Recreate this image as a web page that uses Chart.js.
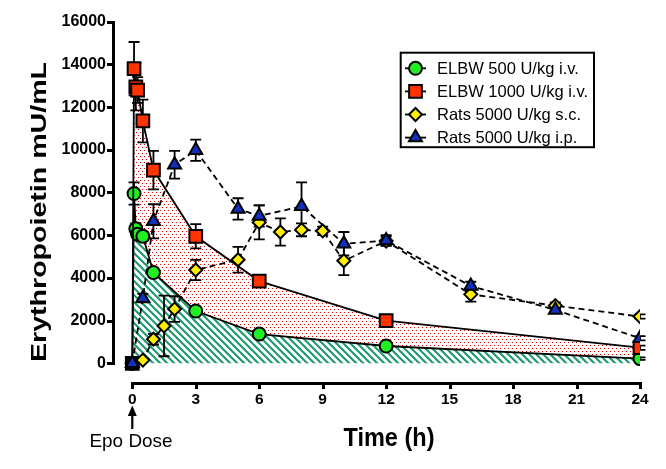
<!DOCTYPE html>
<html>
<head>
<meta charset="utf-8">
<script src="https://cdn.jsdelivr.net/npm/chart.js@4.4.0/dist/chart.umd.min.js"></script>
<style>
  html, body { margin: 0; padding: 0; background: #fff; }
  canvas { display: block; }
</style>
</head>
<body>
<canvas id="epoChart" width="666" height="469"></canvas>
<script>
    "use strict";

    // ELBW infants, 500 U/kg i.v.
    var elbw500Time = [0, 0.083, 0.167, 0.25, 0.5, 1, 3, 6, 12, 24];
    var elbw500Epo  = [0, 7950, 6300, 6050, 5950, 4250, 2450, 1370, 810, 220];
    var elbw500Sem  = [0, 520, 250, 200, 200, 200, 150, 100, 80, 60];

    // ELBW infants, 1000 U/kg i.v.
    var elbw1000Time = [0, 0.083, 0.167, 0.25, 0.5, 1, 3, 6, 12, 24];
    var elbw1000Epo  = [0, 13800, 12950, 12800, 11350, 9050, 5950, 3850, 2000, 730];
    var elbw1000Sem  = [0, 1250, 1100, 600, 1000, 900, 570, 150, 120, 100];

    // Rats, 5000 U/kg s.c.
    var ratsScTime = [0, 0.5, 1, 1.5, 2, 3, 5, 6, 7, 8, 9, 10, 12, 16, 20, 24];
    var ratsScEpo  = [0, 150, 1130, 1750, 2540, 4370, 4850, 6600, 6150, 6250, 6200, 4800, 5730, 3230, 2700, 2190];
    var ratsScSem  = [0, 80, 250, 1420, 600, 470, 600, 800, 640, 300, 200, 670, 200, 340, 150, 100];

    // Rats, 5000 U/kg i.p.
    var ratsIpTime = [0, 0.5, 1, 2, 3, 5, 6, 8, 10, 12, 16, 20, 24];
    var ratsIpEpo  = [0, 3050, 6650, 9300, 9980, 7230, 6900, 7350, 5600, 5750, 3620, 2500, 1170];
    var ratsIpSem  = [0, 200, 800, 650, 500, 500, 500, 1120, 550, 250, 200, 150, 100];

    var seriesLabels = ['ELBW 500 U/kg i.v.', 'ELBW 1000 U/kg i.v.', 'Rats 5000 U/kg s.c.', 'Rats 5000 U/kg i.p.'];
    var xTickValues = [0, 3, 6, 9, 12, 15, 18, 21, 24];
    var yTickValues = [0, 2000, 4000, 6000, 8000, 10000, 12000, 14000, 16000];

    var FONT = '"Liberation Sans", Arial, Helvetica, sans-serif';

    function toPoints(xs, ys) {
        return xs.map(function (x, i) { return {x: x, y: ys[i]}; });
    }

    // green diagonal hatch under the 500 U/kg curve
    function makeHatch() {
        var s = 7;
        var c = document.createElement('canvas');
        c.width = s; c.height = s;
        var g = c.getContext('2d');
        g.strokeStyle = '#1f9a70';
        g.lineWidth = 2.1;
        g.beginPath();
        g.moveTo(-1, -1); g.lineTo(s + 1, s + 1);
        g.moveTo(-1, s - 1); g.lineTo(1, s + 1);
        g.moveTo(s - 1, -1); g.lineTo(s + 1, 1);
        g.stroke();
        return g.createPattern(c, 'repeat');
    }

    // red dots between the two ELBW curves
    function makeDots() {
        var c = document.createElement('canvas');
        c.width = 4; c.height = 6;
        var g = c.getContext('2d');
        g.fillStyle = '#e00000';
        g.fillRect(0, 0, 1, 1);
        g.fillRect(2, 3, 1, 1);
        return g.createPattern(c, 'repeat');
    }

    var markers = [
        {style: 'circle', radius: 6.5, color: '#22ee22'},
        {style: 'rect', radius: 9, color: '#ff3300'},
        {style: 'rectRot', radius: 6.5, color: '#ffee00'},
        {style: 'triangle', radius: 7.5, color: '#1030c0'}
    ];

    // error bars, drawn after fills but below lines and markers
    var errorBars = {
        id: 'errorBars',
        beforeDatasetsDraw: function (chart) {
            var ctx = chart.ctx;
            var x = chart.scales.x, y = chart.scales.y;
            ctx.save();
            ctx.strokeStyle = '#000';
            ctx.lineWidth = 1.8;
            chart.data.datasets.forEach(function (ds) {
                (ds.errors || []).forEach(function (e, i) {
                    if (!e) return;
                    var p = ds.data[i];
                    var px = x.getPixelForValue(p.x);
                    var top = y.getPixelForValue(p.y + e);
                    var bot = y.getPixelForValue(Math.max(0, p.y - e));
                    ctx.beginPath();
                    ctx.moveTo(px, top); ctx.lineTo(px, bot);
                    ctx.moveTo(px - 5.5, top); ctx.lineTo(px + 5.5, top);
                    ctx.moveTo(px - 5.5, bot); ctx.lineTo(px + 5.5, bot);
                    ctx.stroke();
                });
            });
            ctx.restore();
        }
    };

    function fitText(ctx, text, x, y, font, width, rotate) {
        ctx.save();
        ctx.font = font;
        var m = ctx.measureText(text).width;
        ctx.translate(x, y);
        if (rotate) ctx.rotate(-Math.PI / 2);
        ctx.scale(width / m, 1);
        ctx.textAlign = 'center';
        ctx.textBaseline = 'alphabetic';
        ctx.fillStyle = '#000';
        ctx.fillText(text, 0, 0);
        ctx.restore();
    }

    // axis lines and tick marks (only over the tick range)
    var axisFrame = {
        id: 'axisFrame',
        afterDraw: function (chart) {
            var ctx = chart.ctx;
            var xs = chart.scales.x, ys = chart.scales.y;
            var left = Math.round(ys.right), bottom = Math.round(xs.top);
            var w = 3;
            var x0 = Math.round(xs.getPixelForValue(0)), x1 = Math.round(xs.getPixelForValue(24));
            var y0 = Math.round(ys.getPixelForValue(0)), y1 = Math.round(ys.getPixelForValue(16000));
            ctx.save();
            ctx.fillStyle = '#000';
            ctx.fillRect(x0 - 1, bottom - 1, x1 - x0 + 3, w);
            ctx.fillRect(left - 1, y1 - 1, w, y0 - y1 + 3);
            xTickValues.forEach(function (v) {
                var px = Math.round(xs.getPixelForValue(v));
                ctx.fillRect(px - 1, bottom, w, 6);
            });
            yTickValues.forEach(function (v) {
                var py = Math.round(ys.getPixelForValue(v));
                ctx.fillRect(left - 6, py - 1, 6, w);
            });
            ctx.restore();
        }
    };

    // titles, dose arrow and legend box
    var decorations = {
        id: 'decorations',
        afterDraw: function (chart) {
            var ctx = chart.ctx;
            var x = chart.scales.x;
            ctx.save();

            fitText(ctx, 'Erythropoietin mU/mL', 45.5, 212, 'bold 22px ' + FONT, 300, true);
            fitText(ctx, 'Time (h)', 389, 446, 'bold 25px ' + FONT, 91, false);
            fitText(ctx, 'Epo Dose', 131, 447, '19px ' + FONT, 83, false);

            // dose arrow under t = 0
            var ax = x.getPixelForValue(0);
            ctx.strokeStyle = '#000';
            ctx.lineWidth = 2.2;
            ctx.beginPath();
            ctx.moveTo(ax, 413); ctx.lineTo(ax, 429);
            ctx.stroke();
            ctx.fillStyle = '#000';
            ctx.beginPath();
            ctx.moveTo(ax, 405.5); ctx.lineTo(ax - 4.5, 416); ctx.lineTo(ax + 4.5, 416);
            ctx.closePath();
            ctx.fill();

            // legend
            var lx = 400.7, ly = 52.7, lw = 193.3, lh = 94.5;
            ctx.fillStyle = '#fff';
            ctx.fillRect(lx, ly, lw, lh);
            ctx.lineWidth = 2;
            ctx.strokeRect(lx, ly, lw, lh);
            ctx.font = '16.5px ' + FONT;
            ctx.textBaseline = 'middle';
            seriesLabels.forEach(function (label, i) {
                var ry = 68.3 + i * 23.1;
                ctx.strokeStyle = '#000';
                ctx.lineWidth = 1.8;
                ctx.beginPath();
                ctx.moveTo(405, ry); ctx.lineTo(426, ry);
                ctx.stroke();
                ctx.fillStyle = markers[i].color;
                ctx.lineWidth = 2;
                Chart.helpers.drawPoint(ctx, {pointStyle: markers[i].style, radius: markers[i].radius, borderWidth: 2, rotation: 0}, 415.5, ry);
                ctx.fillStyle = '#000';
                ctx.fillText(label, 437, ry + 1);
            });
            ctx.restore();
        }
    };

    var ctx = document.getElementById('epoChart').getContext('2d');

    function lineDataset(i, xs, ys, errs, extra) {
        var ds = {
            label: seriesLabels[i],
            data: toPoints(xs, ys),
            errors: errs,
            showLine: true,
            borderColor: '#000',
            borderWidth: 1.8,
            pointStyle: markers[i].style,
            pointRadius: markers[i].radius,
            pointBackgroundColor: markers[i].color,
            pointBorderColor: '#000',
            pointBorderWidth: 2,
            fill: false
        };
        return Object.assign(ds, extra || {});
    }

    var redBg = elbw1000Time.map(function (t) { return t === 0 ? '#000' : markers[1].color; });

    function plainNumber(v) { return String(v); }

    new Chart(ctx, {
        type: 'scatter',
        data: {
            datasets: [
                lineDataset(0, elbw500Time, elbw500Epo, elbw500Sem, {
                    fill: 'origin', backgroundColor: makeHatch(), order: 3
                }),
                lineDataset(1, elbw1000Time, elbw1000Epo, elbw1000Sem, {
                    fill: '-1', backgroundColor: makeDots(), pointBackgroundColor: redBg, order: 2
                }),
                lineDataset(2, ratsScTime, ratsScEpo, ratsScSem, {
                    borderDash: [6, 4], order: 1
                }),
                lineDataset(3, ratsIpTime, ratsIpEpo, ratsIpSem, {
                    borderDash: [6, 4], order: 0
                })
            ]
        },
        options: {
            responsive: false,
            animation: false,
            events: [],
            layout: {padding: {left: 0, right: 26, top: 21.7, bottom: 0}},
            plugins: {
                legend: {display: false},
                tooltip: {enabled: false},
                filler: {drawTime: 'beforeDatasetsDraw'}
            },
            scales: {
                x: {
                    type: 'linear',
                    min: -0.912,
                    max: 24,
                    afterFit: function (scale) { scale.height = 469 - 383.3; },
                    afterBuildTicks: function (scale) {
                        scale.ticks = xTickValues.map(function (v) { return {value: v}; });
                    },
                    border: {display: false},
                    grid: {display: false, drawOnChartArea: false, tickLength: 6},
                    ticks: {
                        color: '#000', padding: 1, maxRotation: 0, autoSkip: false,
                        callback: plainNumber,
                        font: {family: FONT, size: 15.5, weight: 'bold'}
                    }
                },
                y: {
                    min: -937,
                    max: 16000,
                    afterFit: function (scale) { scale.width = 113; },
                    afterBuildTicks: function (scale) {
                        scale.ticks = yTickValues.map(function (v) { return {value: v}; });
                    },
                    border: {display: false},
                    grid: {display: false, drawOnChartArea: false, tickLength: 5},
                    ticks: {
                        color: '#000', padding: 2, autoSkip: false,
                        callback: plainNumber,
                        font: {family: FONT, size: 16, weight: 'bold'}
                    }
                }
            }
        },
        plugins: [errorBars, axisFrame, decorations]
    });
</script>
</body>
</html>
